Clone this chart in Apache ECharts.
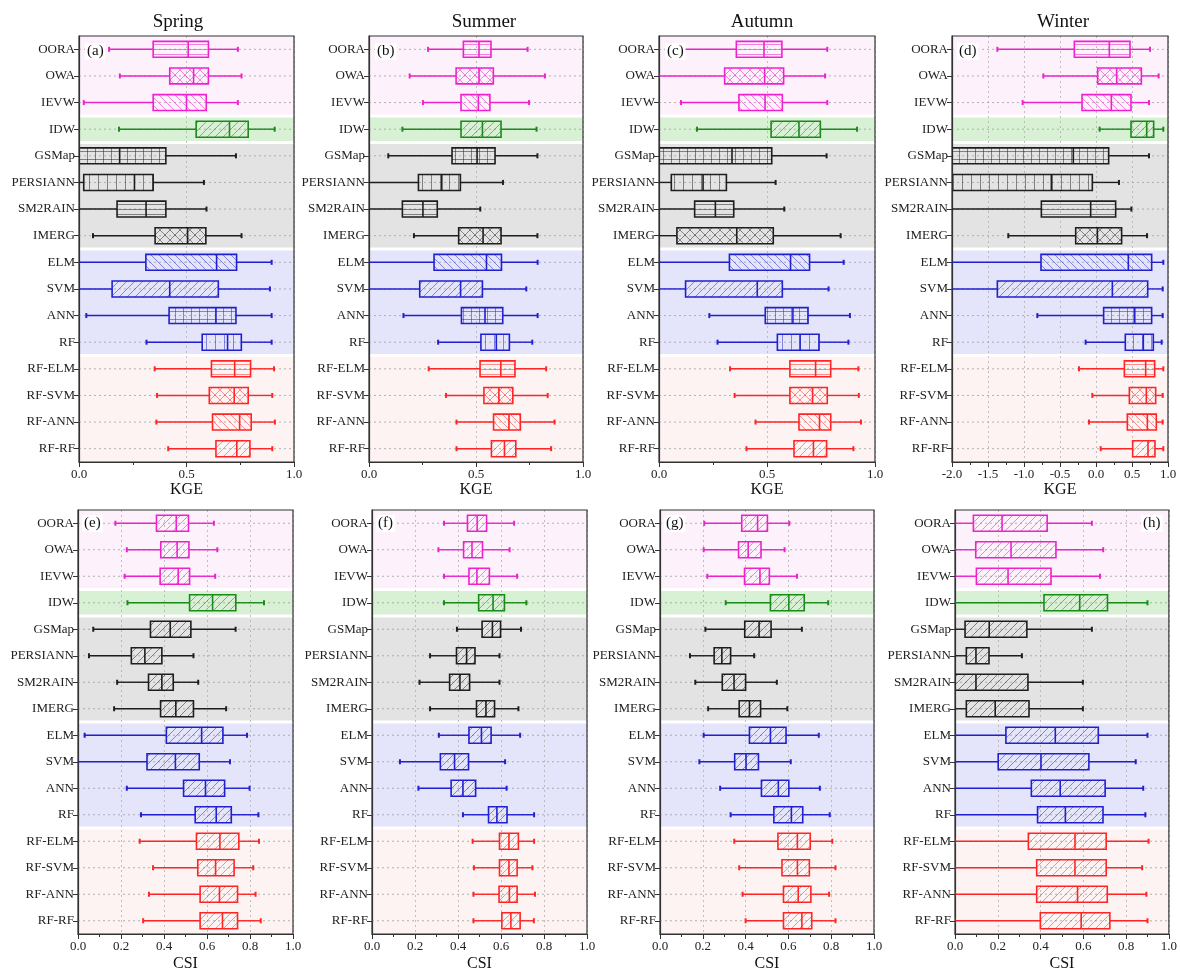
<!DOCTYPE html>
<html>
<head>
<meta charset="utf-8">
<script src="https://cdn.jsdelivr.net/npm/echarts@6/dist/echarts.min.js"></script>
<style>
  html, body { margin: 0; padding: 0; background: #ffffff; }
  #chart { width: 1180px; height: 973px; }
</style>
</head>
<body>
<div id="chart"></div>
<script>
// Products / models, top to bottom
const categories = ['OORA', 'OWA', 'IEVW', 'IDW', 'GSMap', 'PERSIANN', 'SM2RAIN', 'IMERG',
  'ELM', 'SVM', 'ANN', 'RF', 'RF-ELM', 'RF-SVM', 'RF-ANN', 'RF-RF'];
const seasons = ['Spring', 'Summer', 'Autumn', 'Winter'];
const panelLetters = ['(a)', '(b)', '(c)', '(d)', '(e)', '(f)', '(g)', '(h)'];
const metricNames = ['KGE', 'CSI'];

// axis ranges: [min, max, interval]
const kgeRange = [0, 1, 0.5];
const kgeWinterRange = [-2, 1, 0.5];
const csiRange = [0, 1, 0.2];

// [min, Q1, median, Q3, max] per category
const kgeSpring = [
  [0.14, 0.345, 0.508, 0.602, 0.739], [0.19, 0.422, 0.533, 0.602, 0.756],
  [0.022, 0.345, 0.50, 0.592, 0.739], [0.186, 0.545, 0.70, 0.787, 0.91],
  [0, 0, 0.189, 0.404, 0.73], [0, 0.022, 0.258, 0.345, 0.581],
  [0, 0.177, 0.312, 0.404, 0.593], [0.065, 0.354, 0.505, 0.59, 0.756],
  [0, 0.311, 0.64, 0.733, 0.896], [0, 0.154, 0.422, 0.648, 0.888],
  [0.034, 0.419, 0.637, 0.73, 0.896], [0.314, 0.573, 0.691, 0.755, 0.896],
  [0.352, 0.616, 0.724, 0.798, 0.907], [0.363, 0.606, 0.722, 0.787, 0.899],
  [0.36, 0.621, 0.747, 0.801, 0.911], [0.415, 0.637, 0.734, 0.795, 0.899]
];
const kgeSummer = [
  [0.276, 0.441, 0.514, 0.57, 0.741], [0.19, 0.407, 0.514, 0.581, 0.822],
  [0.252, 0.43, 0.511, 0.565, 0.748], [0.156, 0.43, 0.53, 0.617, 0.783],
  [0.09, 0.388, 0.505, 0.589, 0.787], [0, 0.231, 0.34, 0.427, 0.626],
  [0, 0.156, 0.252, 0.319, 0.52], [0.21, 0.419, 0.533, 0.617, 0.787],
  [0, 0.304, 0.549, 0.619, 0.788], [0, 0.237, 0.428, 0.53, 0.735],
  [0.161, 0.432, 0.542, 0.625, 0.788], [0.323, 0.523, 0.595, 0.656, 0.763],
  [0.279, 0.519, 0.616, 0.682, 0.828], [0.36, 0.537, 0.607, 0.672, 0.835],
  [0.409, 0.582, 0.654, 0.707, 0.867], [0.409, 0.572, 0.633, 0.686, 0.851]
];
const kgeAutumn = [
  [0.114, 0.358, 0.486, 0.569, 0.779], [0, 0.304, 0.489, 0.577, 0.769],
  [0.102, 0.37, 0.491, 0.571, 0.779], [0.176, 0.519, 0.648, 0.747, 0.917],
  [0, 0, 0.338, 0.522, 0.776], [0, 0.057, 0.204, 0.312, 0.54],
  [0, 0.165, 0.261, 0.346, 0.58], [0, 0.083, 0.36, 0.529, 0.841],
  [0, 0.326, 0.609, 0.697, 0.855], [0, 0.123, 0.455, 0.571, 0.785],
  [0.233, 0.492, 0.62, 0.69, 0.884], [0.271, 0.548, 0.653, 0.741, 0.877],
  [0.329, 0.606, 0.725, 0.795, 0.923], [0.35, 0.606, 0.711, 0.779, 0.925],
  [0.447, 0.648, 0.743, 0.795, 0.935], [0.405, 0.625, 0.715, 0.776, 0.9]
];
const kgeWinter = [
  [-1.37, -0.301, 0.185, 0.472, 0.75], [-0.731, 0.023, 0.287, 0.63, 0.87],
  [-1.019, -0.194, 0.213, 0.486, 0.736], [0.051, 0.486, 0.704, 0.801, 0.935],
  [-2, -2, -0.315, 0.176, 0.736], [-2, -2, -0.62, -0.051, 0.319],
  [-2, -0.759, -0.074, 0.273, 0.491], [-1.218, -0.282, 0.019, 0.356, 0.708],
  [-2, -0.764, 0.449, 0.773, 0.935], [-2, -1.37, 0.227, 0.718, 0.926],
  [-0.815, 0.106, 0.532, 0.773, 0.926], [-0.144, 0.407, 0.657, 0.796, 0.912],
  [-0.236, 0.394, 0.69, 0.815, 0.935], [-0.051, 0.463, 0.699, 0.829, 0.926],
  [-0.097, 0.435, 0.713, 0.838, 0.926], [0.065, 0.509, 0.722, 0.819, 0.935]
];
const csiSpring = [
  [0.174, 0.365, 0.457, 0.514, 0.632], [0.227, 0.385, 0.461, 0.516, 0.648],
  [0.217, 0.382, 0.466, 0.519, 0.638], [0.23, 0.519, 0.626, 0.734, 0.865],
  [0.071, 0.337, 0.429, 0.525, 0.733], [0.051, 0.248, 0.311, 0.39, 0.537],
  [0.182, 0.328, 0.39, 0.443, 0.559], [0.168, 0.384, 0.455, 0.537, 0.689],
  [0.031, 0.411, 0.575, 0.674, 0.786], [0, 0.321, 0.453, 0.564, 0.707],
  [0.227, 0.491, 0.593, 0.682, 0.798], [0.293, 0.545, 0.643, 0.713, 0.839],
  [0.287, 0.551, 0.66, 0.748, 0.842], [0.349, 0.557, 0.64, 0.726, 0.815],
  [0.33, 0.568, 0.658, 0.742, 0.826], [0.303, 0.568, 0.672, 0.742, 0.85]
];
const csiSummer = [
  [0.335, 0.444, 0.489, 0.533, 0.661], [0.309, 0.426, 0.465, 0.514, 0.64],
  [0.335, 0.451, 0.488, 0.546, 0.675], [0.335, 0.496, 0.563, 0.616, 0.718],
  [0.395, 0.512, 0.56, 0.598, 0.693], [0.27, 0.393, 0.44, 0.479, 0.593],
  [0.221, 0.361, 0.409, 0.454, 0.593], [0.27, 0.486, 0.53, 0.57, 0.681],
  [0.311, 0.451, 0.509, 0.554, 0.689], [0.13, 0.318, 0.384, 0.449, 0.619],
  [0.216, 0.368, 0.423, 0.482, 0.626], [0.423, 0.542, 0.581, 0.628, 0.754],
  [0.468, 0.593, 0.637, 0.681, 0.754], [0.474, 0.593, 0.637, 0.675, 0.746],
  [0.472, 0.591, 0.639, 0.675, 0.758], [0.472, 0.604, 0.646, 0.689, 0.753]
];
const csiAutumn = [
  [0.207, 0.382, 0.456, 0.502, 0.604], [0.204, 0.367, 0.412, 0.472, 0.582],
  [0.221, 0.395, 0.467, 0.511, 0.64], [0.307, 0.516, 0.602, 0.674, 0.786],
  [0.212, 0.396, 0.463, 0.519, 0.663], [0.14, 0.253, 0.289, 0.33, 0.44],
  [0.165, 0.291, 0.346, 0.4, 0.546], [0.225, 0.37, 0.418, 0.47, 0.595],
  [0.204, 0.418, 0.516, 0.589, 0.742], [0.184, 0.349, 0.402, 0.46, 0.611],
  [0.281, 0.474, 0.553, 0.602, 0.747], [0.33, 0.532, 0.614, 0.667, 0.793],
  [0.347, 0.551, 0.642, 0.702, 0.805], [0.37, 0.57, 0.642, 0.698, 0.82],
  [0.386, 0.577, 0.646, 0.705, 0.79], [0.4, 0.577, 0.663, 0.709, 0.82]
];
const csiWinter = [
  [0, 0.086, 0.22, 0.431, 0.64], [0, 0.097, 0.262, 0.472, 0.693],
  [0, 0.1, 0.248, 0.449, 0.678], [0, 0.416, 0.583, 0.713, 0.9],
  [0, 0.047, 0.16, 0.336, 0.64], [0, 0.053, 0.098, 0.159, 0.313],
  [0, 0, 0.098, 0.341, 0.598], [0, 0.053, 0.188, 0.346, 0.598],
  [0, 0.238, 0.469, 0.67, 0.9], [0, 0.202, 0.402, 0.626, 0.845],
  [0, 0.357, 0.492, 0.702, 0.88], [0, 0.386, 0.516, 0.692, 0.89],
  [0, 0.343, 0.561, 0.707, 0.905], [0, 0.382, 0.561, 0.707, 0.875],
  [0, 0.382, 0.573, 0.712, 0.895], [0, 0.399, 0.59, 0.724, 0.9]
];

// category groups sharing a colour and a shaded band: [first, last]
const bandGroups = [[0, 2], [3, 3], [4, 7], [8, 11], [12, 15]];

// ---------- styling ----------
const FONT = '"Liberation Serif", "Times New Roman", serif';
const lineColors = ['#ee22cc', '#1b8a1b', '#1e1e1e', '#2020d0', '#ff2525'];
const hatchColors = ['rgba(238,34,204,0.55)', 'rgba(27,138,27,0.55)', 'rgba(30,30,30,0.5)',
  'rgba(32,32,208,0.5)', 'rgba(255,37,37,0.5)'];
const bandColors = ['#fdf2fc', '#d8f1d4', '#e3e3e3', '#e4e4fb', '#fdf3f2'];
const kgeHatch = ['horiz', 'cross', 'back', 'fwd', 'grid', 'vert', 'horiz', 'cross',
  'back', 'fwd', 'grid', 'vert', 'horiz', 'cross', 'back', 'fwd'];
const csiHatch = categories.map(() => 'fwd');

function groupOf(i) {
  for (let g = 0; g < bandGroups.length; g++) {
    if (i >= bandGroups[g][0] && i <= bandGroups[g][1]) return g;
  }
  return 0;
}

const patternCache = {};
function hatchPattern(kind, g) {
  const key = kind + g;
  if (patternCache[key]) return patternCache[key];
  const s = { horiz: 5, vert: 9, grid: 8, fwd: 8, back: 8, cross: 10 }[kind];
  const c = document.createElement('canvas');
  c.width = s; c.height = s;
  const ctx = c.getContext('2d');
  ctx.strokeStyle = hatchColors[g];
  ctx.lineWidth = 1;
  ctx.beginPath();
  const fwd = () => {
    ctx.moveTo(0, s); ctx.lineTo(s, 0);
    ctx.moveTo(-s / 2, s / 2); ctx.lineTo(s / 2, -s / 2);
    ctx.moveTo(s / 2, s * 1.5); ctx.lineTo(s * 1.5, s / 2);
  };
  const back = () => {
    ctx.moveTo(0, 0); ctx.lineTo(s, s);
    ctx.moveTo(-s / 2, s / 2); ctx.lineTo(s / 2, s * 1.5);
    ctx.moveTo(s / 2, -s / 2); ctx.lineTo(s * 1.5, s / 2);
  };
  if (kind === 'horiz' || kind === 'grid') { ctx.moveTo(0, s - 0.5); ctx.lineTo(s, s - 0.5); }
  if (kind === 'vert' || kind === 'grid') { ctx.moveTo(s - 0.5, 0); ctx.lineTo(s - 0.5, s); }
  if (kind === 'fwd' || kind === 'cross') fwd();
  if (kind === 'back' || kind === 'cross') back();
  ctx.stroke();
  patternCache[key] = { image: c, repeat: 'repeat' };
  return patternCache[key];
}

function renderBand(params, api) {
  const cs = params.coordSys;
  const s = api.value(0), e = api.value(1);
  const bh = api.size([0, 1])[1];
  let y0 = api.coord([0, s])[1] - bh / 2;
  let y1 = api.coord([0, e])[1] + bh / 2;
  if (s > 0) y0 += 1.5;
  if (e < categories.length - 1) y1 -= 1.5;
  return {
    type: 'rect',
    shape: { x: cs.x, y: y0, width: cs.width, height: y1 - y0 },
    style: { fill: bandColors[params.dataIndex] }
  };
}

function makeBoxRenderer(hatch) {
  return function (params, api) {
    const cs = params.coordSys;
    const i = api.value(0);
    const xs = [1, 2, 3, 4, 5].map(d => api.coord([api.value(d), i])[0]);
    const yc = api.coord([api.value(3), i])[1];
    const h = api.size([0, 1])[1] * 0.6;
    const g = groupOf(i);
    const col = lineColors[g];
    return {
      type: 'group',
      children: [
        { type: 'line', shape: { x1: cs.x, y1: yc, x2: cs.x + cs.width, y2: yc },
          style: { stroke: '#a0a0a0', lineWidth: 0.8, lineDash: [2, 3] } },
        { type: 'line', shape: { x1: xs[0], y1: yc, x2: xs[1], y2: yc },
          style: { stroke: col, lineWidth: 1.4 } },
        { type: 'line', shape: { x1: xs[3], y1: yc, x2: xs[4], y2: yc },
          style: { stroke: col, lineWidth: 1.4 } },
        { type: 'line', shape: { x1: xs[0], y1: yc - 2.5, x2: xs[0], y2: yc + 2.5 },
          style: { stroke: col, lineWidth: 2 } },
        { type: 'line', shape: { x1: xs[4], y1: yc - 2.5, x2: xs[4], y2: yc + 2.5 },
          style: { stroke: col, lineWidth: 2 } },
        { type: 'rect', shape: { x: xs[1], y: yc - h / 2, width: xs[3] - xs[1], height: h },
          style: { fill: hatchPattern(hatch[i], g), stroke: col, lineWidth: 1.6 } },
        { type: 'line', shape: { x1: xs[2], y1: yc - h / 2, x2: xs[2], y2: yc + h / 2 },
          style: { stroke: col, lineWidth: 1.6 } }
      ]
    };
  };
}

// ---------- panel layout ----------
const panels = [
  { data: kgeSpring, range: kgeRange, metric: 0, hatch: kgeHatch, left: 79, top: 36, width: 215, height: 426, tag: [85, 43] },
  { data: kgeSummer, range: kgeRange, metric: 0, hatch: kgeHatch, left: 369, top: 36, width: 214, height: 426, tag: [375, 43] },
  { data: kgeAutumn, range: kgeRange, metric: 0, hatch: kgeHatch, left: 659, top: 36, width: 216, height: 426, tag: [665, 43] },
  { data: kgeWinter, range: kgeWinterRange, metric: 0, hatch: kgeHatch, left: 952, top: 36, width: 216, height: 426, tag: [957, 43] },
  { data: csiSpring, range: csiRange, metric: 1, hatch: csiHatch, left: 78, top: 510, width: 215, height: 427, tag: [82, 515] },
  { data: csiSummer, range: csiRange, metric: 1, hatch: csiHatch, left: 372, top: 510, width: 215, height: 427, tag: [376, 515] },
  { data: csiAutumn, range: csiRange, metric: 1, hatch: csiHatch, left: 660, top: 510, width: 214, height: 427, tag: [664, 515] },
  { data: csiWinter, range: csiRange, metric: 1, hatch: csiHatch, left: 955, top: 510, width: 214, height: 427, tag: [1141, 515] }
];
const seasonTitleX = [178, 484, 762, 1063];

const grid = [], xAxis = [], yAxis = [], series = [], graphic = [];
panels.forEach((p, k) => {
  grid.push({ left: p.left, top: p.top, width: p.width, height: p.height, show: true,
    borderColor: '#333', borderWidth: 1.2, backgroundColor: 'transparent', z: 5 });
  xAxis.push({
    type: 'value', gridIndex: k, min: p.range[0], max: p.range[1], interval: p.range[2],
    z: 2,
    name: metricNames[p.metric], nameLocation: 'middle', nameGap: p.metric === 0 ? 19 : 22,
    nameTextStyle: { fontFamily: FONT, fontSize: 16, color: '#111' },
    axisLine: { show: true, onZero: false, lineStyle: { color: '#333', width: 1.2 } },
    axisTick: { show: true, inside: false, length: 5, lineStyle: { color: '#333' } },
    minorTick: { show: true, splitNumber: 2, length: 3, lineStyle: { color: '#333' } },
    axisLabel: { fontFamily: FONT, fontSize: 13, color: '#222', margin: 6,
      formatter: v => v.toFixed(1) },
    splitLine: { show: true, lineStyle: { color: '#b0b0b0', type: [2, 3], width: 0.8 } }
  });
  yAxis.push({
    type: 'category', gridIndex: k, data: categories, inverse: true, z: 2,
    axisLine: { show: true, onZero: false, lineStyle: { color: '#333', width: 1.2 } },
    axisTick: { show: true, alignWithLabel: true, length: 5, lineStyle: { color: '#333' } },
    axisLabel: { fontFamily: FONT, fontSize: 13, color: '#222', margin: 4 },
    splitLine: { show: false }
  });
  series.push({
    type: 'custom', xAxisIndex: k, yAxisIndex: k, z: 1, silent: true,
    renderItem: renderBand,
    encode: { x: 2, y: [0, 1] },
    data: bandGroups.map(b => [b[0], b[1], 0])
  });
  series.push({
    type: 'custom', xAxisIndex: k, yAxisIndex: k, z: 3, clip: true,
    renderItem: makeBoxRenderer(p.hatch),
    encode: { y: 0, x: [1, 2, 3, 4, 5] },
    data: p.data.map((r, i) => [i, r[0], r[1], r[2], r[3], r[4]])
  });
  graphic.push({
    type: 'text', x: p.tag[0], y: p.tag[1], z: 20,
    style: { text: panelLetters[k], font: '15px ' + FONT, fill: '#111',
      backgroundColor: '#ffffff', padding: [1, 2] }
  });
});
seasons.forEach((s, k) => {
  graphic.push({
    type: 'text', x: seasonTitleX[k], y: 22, z: 20,
    style: { text: s, font: '19px ' + FONT, fill: '#111', align: 'center', verticalAlign: 'middle' }
  });
});

const chart = echarts.init(document.getElementById('chart'), null, { renderer: 'canvas' });
chart.setOption({
  backgroundColor: '#ffffff',
  animation: false,
  grid, xAxis, yAxis, series, graphic
});
</script>
</body>
</html>
